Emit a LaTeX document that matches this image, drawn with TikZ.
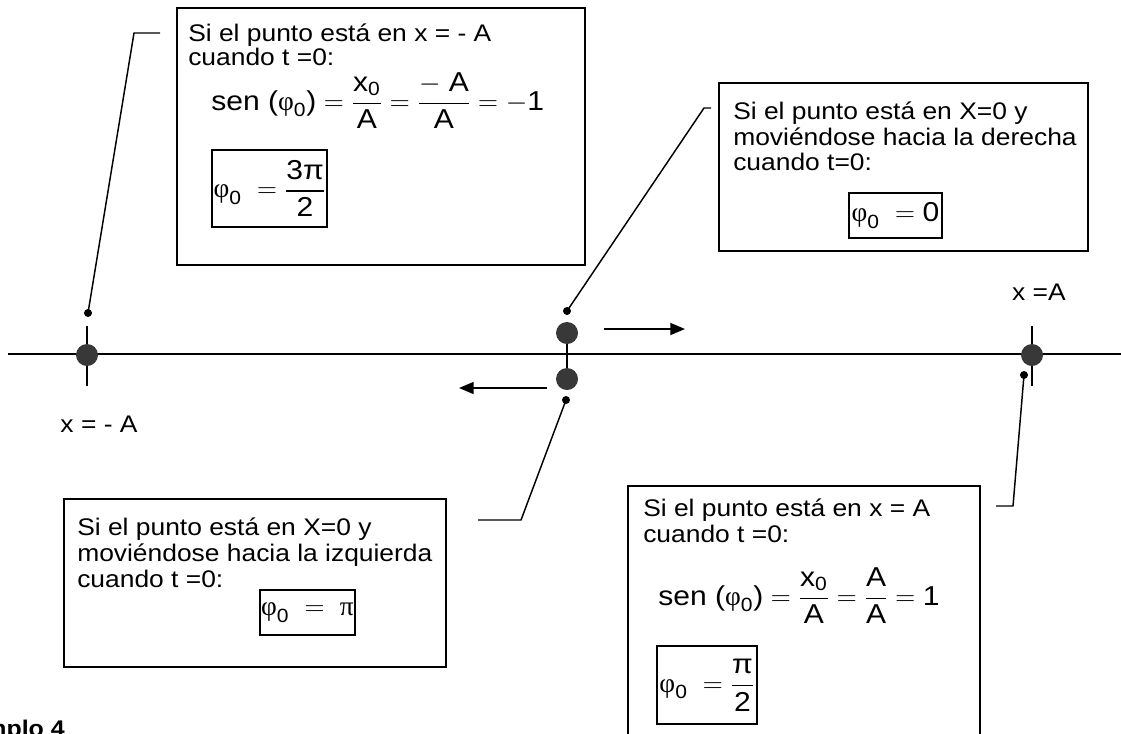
\documentclass[tikz,border=0pt]{standalone}
\usepackage{amsmath}
\usepackage{fontspec}
\setmainfont[FakeStretch=1.1]{Liberation Sans}
\newfontfamily\grk{Liberation Serif}
\usetikzlibrary{arrows.meta}
\newcommand{\txtsize}{\fontsize{18pt}{19.5pt}\selectfont}
\newcommand{\eqsize}{\fontsize{20.5pt}{24pt}\selectfont}
\newcommand{\phz}{\text{\grk φ}_{\text{0}}}
\newcommand{\pis}{\text{π}}
\tikzset{
  x=0.75pt, y=-0.75pt,
  box/.style={draw, line width=1.4pt, inner sep=0pt},
  inbox/.style={draw, line width=0.8pt, inner sep=0pt, font=\eqsize},
  txt/.style={anchor=base west, inner sep=0pt, font=\txtsize},
  eqn/.style={anchor=base west, inner sep=0pt, font=\eqsize},
  dotbig/.style={circle, fill=black!78, minimum size=16.5pt, inner sep=0pt},
  dotsmall/.style={circle, fill=black, minimum size=6pt, inner sep=0pt},
  leader/.style={line width=1.1pt},
  axisline/.style={line width=1.4pt},
  arr/.style={line width=1.1pt, -{Triangle[length=11pt, width=9pt]}},
}
\begin{document}
\begin{tikzpicture}
\useasboundingbox (0,0) rectangle (1121,733);
% boxes
\node[box, minimum width=408*0.75pt, minimum height=257*0.75pt] (b1) at (381,136.5) {};
\node[box, minimum width=369*0.75pt, minimum height=168*0.75pt] (b2) at (903.5,167) {};
\node[box, minimum width=382*0.75pt, minimum height=168*0.75pt] (b3) at (255,583) {};
\node[box, minimum width=352*0.75pt, minimum height=270*0.75pt] (b4) at (804,621) {};
% box 1 content
\node[txt] (t11) at (188,41) {Si el punto está en x = - A};
\node[txt] (t12) at (188,65) {cuando t =0:};
\node[eqn] (e1) at (211,110) {$\text{sen (}\phz\text{)} = \dfrac{\text{x}_{\text{0}}}{\text{A}} = \dfrac{-\text{ A}}{\text{A}} = -\text{1}$};
\node[inbox, minimum width=115*0.75pt, minimum height=77*0.75pt] (f1) at (269.5,188.5) {$\phz \;=\dfrac{\text{3}\pis}{\text{2}}$};
% box 2 content
\node[txt] (t21) at (733,119) {Si el punto está en X=0 y};
\node[txt] (t22) at (733,145) {moviéndose hacia la derecha};
\node[txt] (t23) at (733,170) {cuando t=0:};
\node[inbox, minimum width=93*0.75pt, minimum height=45*0.75pt] (f2) at (895.5,215.5) {$\phz \;= \text{0}$};
% box 3 content
\node[txt] (t31) at (77,535) {Si el punto está en X=0 y};
\node[txt] (t32) at (77,561) {moviéndose hacia la izquierda};
\node[txt] (t33) at (77,587) {cuando t =0:};
\node[inbox, minimum width=95*0.75pt, minimum height=45*0.75pt] (f3) at (307.5,612.5) {$\phz \;=\; \text{\grk π}$};
% box 4 content
\node[txt] (t41) at (643,516) {Si el punto está en x = A};
\node[txt] (t42) at (643,542) {cuando t =0:};
\node[eqn] (e4) at (658,605) {$\text{sen (}\phz\text{)} = \dfrac{\text{x}_{\text{0}}}{\text{A}} = \dfrac{\text{A}}{\text{A}} = \text{1}$};
\node[inbox, minimum width=100*0.75pt, minimum height=78*0.75pt] (f4) at (707,685) {$\phz \;=\dfrac{\pis}{\text{2}}$};
% axis
\coordinate (axL) at (8,354);
\coordinate (axR) at (1121,354);
\draw[axisline] (axL) -- (axR);
\coordinate (tk1a) at (87,326); \coordinate (tk1b) at (87,386);
\coordinate (tk4a) at (1032,326); \coordinate (tk4b) at (1032,386);
\draw[leader] (tk1a) -- (tk1b);
\draw[leader] (tk4a) -- (tk4b);
\node[dotbig] (p1) at (87,355) {};
\node[dotbig] (p4) at (1032,355) {};
\node[dotbig] (p2) at (567,333) {};
\node[dotbig] (p3) at (567,379) {};
\draw[leader] (p2) -- (p3);
% labels
\node[font=\txtsize, inner sep=0pt] (lm) at (99,424) {x = - A};
\node[font=\txtsize, inner sep=0pt] (lp) at (1039,292) {x =A};
% arrows
\coordinate (ar1a) at (604,329); \coordinate (ar1b) at (685,329);
\coordinate (ar2a) at (547,388); \coordinate (ar2b) at (459,388);
\draw[arr] (ar1a) -- (ar1b);
\draw[arr] (ar2a) -- (ar2b);
% leaders
\node[dotsmall] (d1) at (88,313) {};
\node[dotsmall] (d2) at (567,311) {};
\node[dotsmall] (d3) at (566,400) {};
\node[dotsmall] (d4) at (1024,375) {};
\coordinate (c1a) at (134,33); \coordinate (c1b) at (160,33);
\coordinate (c2a) at (704,108); \coordinate (c2b) at (711,108);
\coordinate (c3a) at (521,520); \coordinate (c3b) at (478,520);
\coordinate (c4a) at (1013,506); \coordinate (c4b) at (996,506);
\draw[leader] (d1.center) -- (c1a) -- (c1b);
\draw[leader] (d2.center) -- (c2a) -- (c2b);
\draw[leader] (d3.center) -- (c3a) -- (c3b);
\draw[leader] (d4.center) -- (c4a) -- (c4b);
% cut title
\node[anchor=base east, inner sep=0pt, font=\fontsize{17pt}{18pt}\selectfont\bfseries] (ttl) at (65,736) {Ejemplo 4};
\end{tikzpicture}
\end{document}
